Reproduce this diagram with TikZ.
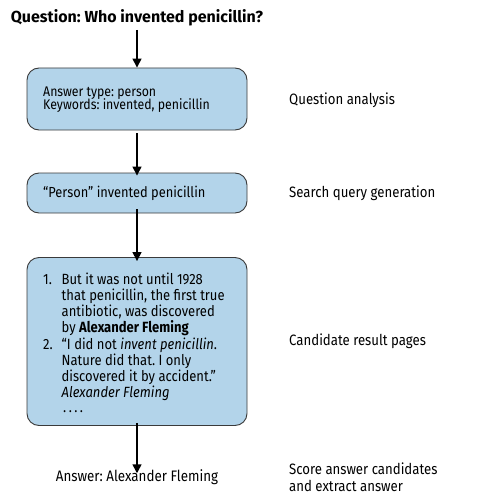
\documentclass[tikz,border=0pt]{standalone}
\usepackage{fontspec}
\setmainfont{Fira Sans}[FakeStretch=0.88]
\newfontfamily\titlefont{Fira Sans}
\usetikzlibrary{arrows.meta}
\definecolor{boxblue}{HTML}{B3D4EA}
\definecolor{edgegray}{HTML}{3A3A3A}
\frenchspacing
\begin{document}
\begin{tikzpicture}[x=1pt,y=-1pt,
  txt/.style={font=\fontsize{15}{17}\selectfont},
  stage/.style={draw=edgegray, fill=boxblue, rounded corners=12pt, line width=0.9pt,
    minimum width=220pt, inner sep=0pt},
  line/.style={anchor=base west, inner sep=0pt},
  flow/.style={-{Triangle[length=9pt,width=9pt]}, line width=1.5pt},
  lbl/.style={anchor=west, align=left, inner sep=0pt, txt}]
\useasboundingbox (0,0) rectangle (478,500);

\node[font=\fontsize{16}{18}\selectfont\titlefont\bfseries, inner sep=0pt] (q) at (137,18) {Question: Who invented penicillin?};

% box 1
\node[stage, minimum height=62pt] (b1) at (137,99) {};
\begin{scope}[every node/.append style={font=\fontsize{14}{14}\selectfont}]
\node[line] (b1a) at (43,96) {Answer type: person};
\node[line] (b1b) at (43,109.5) {Keywords: invented, penicillin};
\end{scope}

% box 2
\node[stage, minimum height=40pt] (b2) at (137,193) {};
\node[line, font=\fontsize{14.6}{16}\selectfont] (b2a) at (43,197.5) {“Person” invented penicillin};

% box 3
\node[stage, minimum height=168pt] (b3) at (137,341.5) {};
\begin{scope}[every node/.append style={font=\fontsize{14.8}{16}\selectfont}]
\node[line] (n1) at (43,284.3) {1.};
\node[line] (n2) at (43,349.1) {2.};
\node[line] (t1) at (61.5,284.3) {But it was not until 1928};
\node[line] (t2) at (61.5,300.5) {that penicillin, the first true};
\node[line] (t3) at (61.5,316.7) {antibiotic, was discovered};
\node[line] (t4) at (61.5,332.9) {by \textbf{Alexander Fleming}};
\node[line] (t5) at (61.5,349.1) {“I did not \textit{invent penicillin}.};
\node[line] (t6) at (61.5,365.3) {Nature did that. I only};
\node[line] (t7) at (61.5,381.5) {discovered it by accident.”};
\node[line] (t8) at (61.5,397.7) {\textit{Alexander Fleming}};
\node[line] (t9) at (63,412.3) {.\,.\,.\,.};
\end{scope}

\node[txt, inner sep=0pt, font=\fontsize{15.2}{17}\selectfont] (ans) at (137,477) {Answer: Alexander Fleming};

\draw[flow] (q.south |- 0,30) -- (b1.north);
\draw[flow] (b1.south) ++(0,3) -- ([yshift=-3pt]b2.north);
\draw[flow] ([yshift=4pt]b2.south) -- ([yshift=-4pt]b3.north);
\draw[flow] ([yshift=3pt]b3.south) -- ([yshift=-4pt]ans.north);

\node[lbl] (l1) at (289,100) {Question analysis};
\node[lbl] (l2) at (289,193) {Search query generation};
\node[lbl] (l3) at (289,341) {Candidate result pages};
\node[lbl] (l4) at (289,477) {Score answer candidates\\and extract answer};
\end{tikzpicture}
\end{document}
